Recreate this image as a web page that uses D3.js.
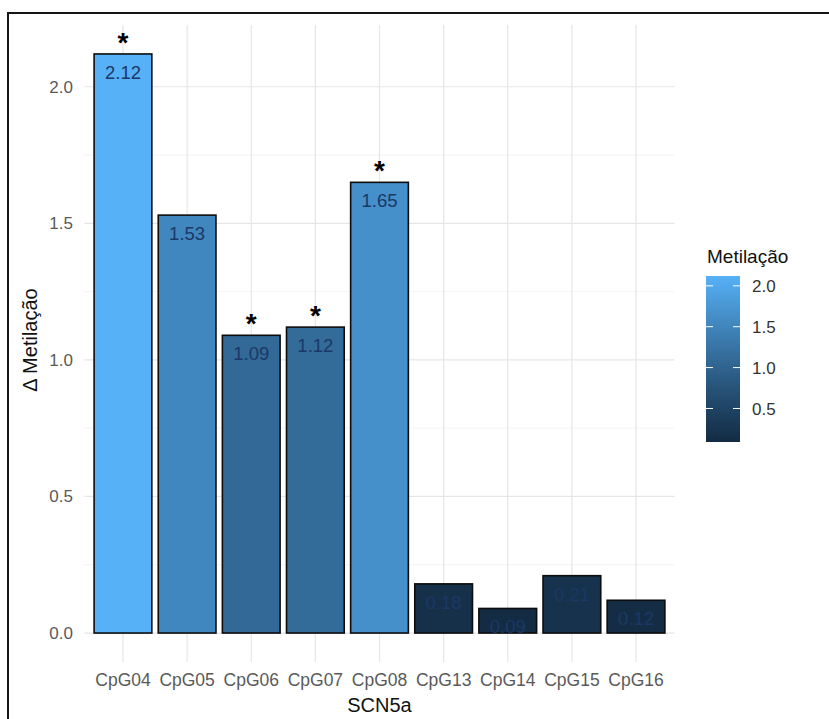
<!DOCTYPE html>
<html>
<head>
<meta charset="utf-8">
<script src="https://cdn.jsdelivr.net/npm/d3@7/dist/d3.min.js"></script>
<style>
  html, body { margin: 0; padding: 0; background: #fff; }
  svg { display: block; font-family: Arial, "Liberation Sans", sans-serif; }
</style>
</head>
<body>
<svg id="chart" width="829" height="719"></svg>
<script>
// ---- data ----
const categories = ["CpG04","CpG05","CpG06","CpG07","CpG08","CpG13","CpG14","CpG15","CpG16"];
const values     = [2.12, 1.53, 1.09, 1.12, 1.65, 0.18, 0.09, 0.21, 0.12];
const significant = [true, false, true, true, true, false, false, false, false];
const yTicks = [0.0, 0.5, 1.0, 1.5, 2.0];
const yMinorTicks = [0.25, 0.75, 1.25, 1.75];
const legendTicks = [0.5, 1.0, 1.5, 2.0];
const xTitle = "SCN5a";
const yTitle = "Δ Metilação";
const legendTitle = "Metilação";

const svg = d3.select("#chart");

// outer frame
svg.append("rect").attr("x", 8).attr("y", 13).attr("width", 860).attr("height", 760)
  .attr("fill", "none").attr("stroke", "#151515").attr("stroke-width", 2);

// panel
const panel = { left: 84.5, right: 674.5, top: 25, bottom: 662 };

const x = d3.scaleBand().domain(categories)
  .range([panel.left + 0.6 * 64.1 - 0.5 * 64.1, panel.right - 0.6 * 64.1 + 0.5 * 64.1])
  .paddingInner(0.1).paddingOuter(0.05);
const y = d3.scaleLinear().domain([-0.106, 2.226]).range([panel.bottom, panel.top]);

const vmin = d3.min(values), vmax = d3.max(values);
const color = d3.scaleLinear().domain([vmin, vmax]).range(["#132B43", "#56B1F7"])
  .interpolate(d3.interpolateLab);

// gridlines
const g = svg.append("g");
g.selectAll("line.minor").data(yMinorTicks).join("line")
  .attr("x1", panel.left).attr("x2", panel.right)
  .attr("y1", d => y(d)).attr("y2", d => y(d))
  .attr("stroke", "#f0f0f0").attr("stroke-width", 0.8);
g.selectAll("line.major").data(yTicks).join("line")
  .attr("x1", panel.left).attr("x2", panel.right)
  .attr("y1", d => y(d)).attr("y2", d => y(d))
  .attr("stroke", "#e6e6e6").attr("stroke-width", 1.2);
g.selectAll("line.vx").data(categories).join("line")
  .attr("x1", d => x(d) + x.bandwidth() / 2).attr("x2", d => x(d) + x.bandwidth() / 2)
  .attr("y1", panel.top).attr("y2", panel.bottom)
  .attr("stroke", "#e6e6e6").attr("stroke-width", 1.2);

// y axis labels
const yAxis = d3.axisLeft(y).tickValues(yTicks).tickFormat(d3.format(".1f")).tickSize(0).tickPadding(0);
const ya = svg.append("g").attr("transform", `translate(73,0)`).call(yAxis);
ya.select(".domain").remove();
ya.selectAll("text").attr("font-size", 17).attr("fill", "#5a5a5a")
  .attr("font-family", "Arial, 'Liberation Sans', sans-serif");

// x axis labels
const xAxis = d3.axisBottom(x).tickSize(0).tickPadding(0);
const xa = svg.append("g").attr("transform", `translate(0,674)`).call(xAxis);
xa.select(".domain").remove();
xa.selectAll("text").attr("font-size", 17.5).attr("fill", "#5a5a5a")
  .attr("font-family", "Arial, 'Liberation Sans', sans-serif");

// bars
const bars = svg.append("g");
bars.selectAll("rect").data(values).join("rect")
  .attr("x", (d, i) => x(categories[i]))
  .attr("width", x.bandwidth())
  .attr("y", d => y(d))
  .attr("height", d => y(0) - y(d))
  .attr("fill", d => color(d))
  .attr("stroke", "#0d0d0d").attr("stroke-width", 1.6);

// value labels
bars.selectAll("text.val").data(values).join("text")
  .attr("class", "val")
  .attr("x", (d, i) => x(categories[i]) + x.bandwidth() / 2)
  .attr("y", d => y(d) + 25)
  .attr("text-anchor", "middle")
  .attr("font-size", 18.5)
  .attr("fill", "#1b3866")
  .text(d => d.toFixed(2));

// significance stars
bars.selectAll("text.star").data(values).join("text")
  .attr("class", "star")
  .attr("x", (d, i) => x(categories[i]) + x.bandwidth() / 2)
  .attr("y", d => y(d) - 2)
  .attr("text-anchor", "middle")
  .attr("font-size", 28)
  .attr("font-weight", "bold")
  .attr("fill", "#000")
  .text((d, i) => significant[i] ? "*" : "");

// axis titles
svg.append("text").attr("x", (panel.left + panel.right) / 2).attr("y", 712)
  .attr("text-anchor", "middle").attr("font-size", 20).attr("fill", "#111").text(xTitle);
svg.append("text").attr("transform", `translate(37,340) rotate(-90)`)
  .attr("text-anchor", "middle").attr("font-size", 20).attr("fill", "#111").text(yTitle);

// legend
const lg = { x: 706, w: 34, top: 276, bottom: 442 };
const ly = d3.scaleLinear().domain([vmin, vmax]).range([lg.bottom, lg.top]);
const defs = svg.append("defs");
const grad = defs.append("linearGradient").attr("id", "lgrad")
  .attr("x1", 0).attr("y1", 1).attr("x2", 0).attr("y2", 0);
d3.range(0, 1.0001, 0.1).forEach(t => {
  grad.append("stop").attr("offset", t).attr("stop-color", color(vmin + t * (vmax - vmin)));
});
svg.append("rect").attr("x", lg.x).attr("y", lg.top).attr("width", lg.w)
  .attr("height", lg.bottom - lg.top).attr("fill", "url(#lgrad)");
const lt = svg.append("g");
lt.selectAll("line.l").data(legendTicks).join("line")
  .attr("x1", lg.x).attr("x2", lg.x + 7).attr("y1", d => ly(d)).attr("y2", d => ly(d))
  .attr("stroke", "#fff").attr("stroke-width", 1);
lt.selectAll("line.r").data(legendTicks).join("line")
  .attr("x1", lg.x + lg.w - 7).attr("x2", lg.x + lg.w).attr("y1", d => ly(d)).attr("y2", d => ly(d))
  .attr("stroke", "#fff").attr("stroke-width", 1);
lt.selectAll("text").data(legendTicks).join("text")
  .attr("x", 752).attr("y", d => ly(d)).attr("dy", "0.36em")
  .attr("font-size", 17).attr("fill", "#333")
  .text(d => d.toFixed(1));
svg.append("text").attr("x", 707).attr("y", 263).attr("font-size", 19).attr("fill", "#111").text(legendTitle);
</script>
</body>
</html>
